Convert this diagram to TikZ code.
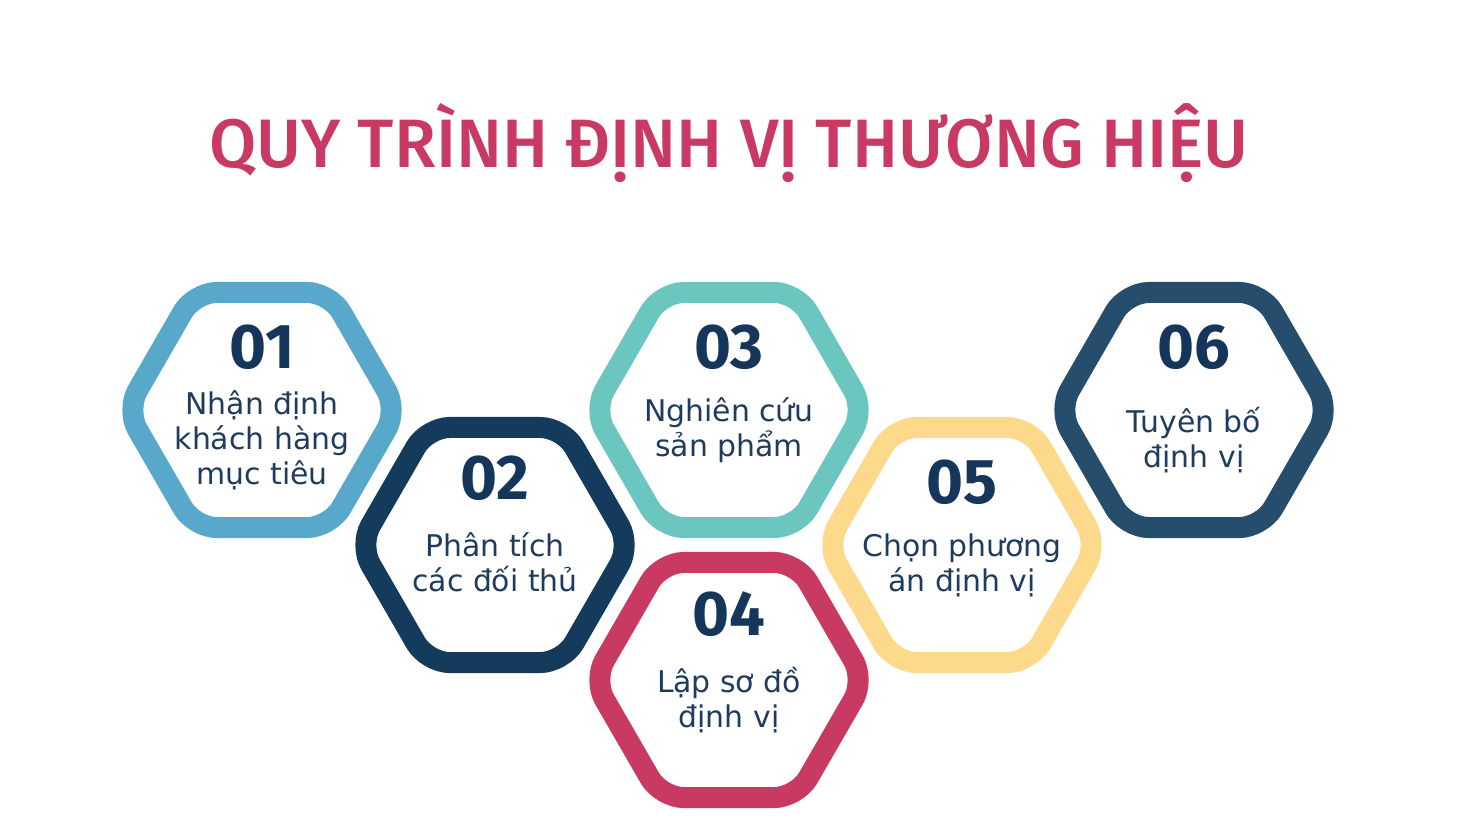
\documentclass[tikz,border=0pt]{standalone}
\usepackage{fontspec}
\setmainfont{DejaVu Sans}
\newfontfamily\titlefont{Fira Sans Medium}
\newfontfamily\numfont{Fira Sans}
\usetikzlibrary{shapes.geometric}
\usetikzlibrary{positioning}
\definecolor{cTitle}{HTML}{C83A64}
\definecolor{cNum}{HTML}{16355A}
\definecolor{cText}{HTML}{1F3B5E}
\definecolor{cOne}{HTML}{58A8CC}
\definecolor{cTwo}{HTML}{143A5C}
\definecolor{cThree}{HTML}{6CC6C0}
\definecolor{cFour}{HTML}{C93A62}
\definecolor{cFive}{HTML}{FDD98C}
\definecolor{cSix}{HTML}{264E6C}
\tikzset{hexring/.style={regular polygon, regular polygon sides=6, minimum size=5.43cm, inner sep=0pt, line width=0.42cm, rounded corners=0.45cm, draw},
num/.style={font=\numfont\bfseries\fontsize{36}{40}\selectfont, text=cNum, inner sep=0pt},
lab/.style={font=\fontsize{17}{19.8}\selectfont, text=cText, align=center, inner sep=0pt}}

\begin{document}
\begin{tikzpicture}[x=0.02cm,y=-0.02cm]
\useasboundingbox (0,0) rectangle (1459,823);
\node (title) at (729,143) [font=\titlefont\fontsize{39}{42}\selectfont, text=cTitle] {QUY TRÌNH ĐỊNH VỊ THƯƠNG HIỆU};
\foreach \i/\x/\y/\c/\ny/\ty/\t in {1/262/410/cOne/347/440/{Nhận định\\khách hàng\\mục tiêu},
2/495/545/cTwo/478/562/{Phân tích\\các đối thủ},
3/729/410/cThree/347/430/{Nghiên cứu\\sản phẩm},
4/729/680/cFour/614/700/{Lập sơ đồ\\định vị},
5/962/545/cFive/482/565/{Chọn phương\\án định vị},
6/1194/410/cSix/347/440/{Tuyên bố\\định vị}} {
\node (h\i) at (\x,\y) [hexring, draw=\c] {};
\node (n\i) at (\x,\ny) [num] {0\i};
\node (t\i) at (\x,\ty) [lab] {\t};
}
\end{tikzpicture}
\end{document}
